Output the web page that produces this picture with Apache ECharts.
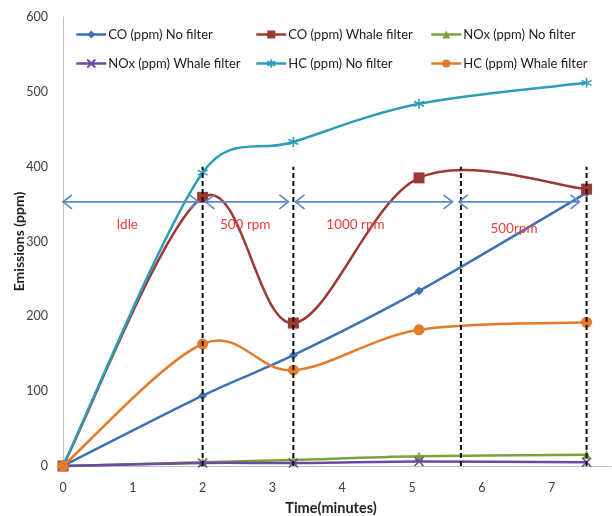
<!DOCTYPE html>
<html>
<head>
<meta charset="utf-8">
<script src="https://cdn.jsdelivr.net/npm/echarts@6/dist/echarts.min.js"></script>
<style>
html,body{margin:0;padding:0;background:#fff;}
#chart{width:612px;height:516px;}
</style>
</head>
<body>
<div id="chart"></div>
<script>
// ---- data ----
const timeMin      = [0, 2, 3.3, 5.1, 7.5];
const coNoFilter   = [0, 94, 148, 234, 365];
const coWhale      = [0, 359, 191, 385, 370];
const noxNoFilter  = [0, 5, 8, 13, 15];
const noxWhale     = [0, 4, 4, 6, 5];
const hcNoFilter   = [0, 392, 433, 484, 512];
const hcWhale      = [0, 163, 128, 182, 192];

const seriesNames = ['CO (ppm) No filter','CO (ppm) Whale filter','NOx (ppm) No filter',
                     'NOx (ppm) Whale filter','HC (ppm) No filter','HC (ppm) Whale filter'];

const phaseBoundaries = [2, 3.3, 5.7, 7.5];
const boundaryTop = 400;
const arrowStart = [0, 2.04, 3.33, 5.67];
const arrowEnd   = [1.94, 3.23, 5.58, 7.40];
const arrowLevel = [353, 353, 353, 353];
const phaseLabels = ['Idle', '500 rpm', '1000 rpm', '500rpm'];
const phaseLabelX = [0.92, 2.61, 4.19, 6.46];
const phaseLabelY = [323, 323, 323, 317];

const yTicks = [0, 100, 200, 300, 400, 500, 600];
const xTicks = [0, 1, 2, 3, 4, 5, 6, 7];

// ---- styles ----
const FONT = 'Lato';
const colors = ['#3f72b5', '#9c3a36', '#79a33c', '#6d4a9f', '#2f9db5', '#e27c2c'];
const asterisk = 'path://M5,0L5,10M0.7,2.5L9.3,7.5M0.7,7.5L9.3,2.5';
const cross = 'path://M0,0L10,10M0,10L10,0';
const symbols = ['diamond', 'rect', 'triangle', cross, asterisk, 'circle'];
const symbolSizes = [9, 11, 9, 9, 10, 11];
const values = [coNoFilter, coWhale, noxNoFilter, noxWhale, hcNoFilter, hcWhale];

function dist(a, b) { return Math.hypot(b[0] - a[0], b[1] - a[1]); }

// Smoothed curve (Excel-style spline) drawn segment by segment from the data through api.coord
function curveSeries(sIdx) {
  const vals = values[sIdx];
  const n = timeMin.length;
  return {
    name: seriesNames[sIdx],
    type: 'custom',
    silent: true,
    z: 2 + sIdx,
    data: timeMin.map((t, k) => [t, vals[k]]),
    encode: { x: 0, y: 1 },
    renderItem: function (params, api) {
      const i = params.dataIndex;
      if (i >= n - 1) return null;
      const P = k => api.coord([timeMin[k], vals[k]]);
      const P0 = P(Math.max(i - 1, 0)), P1 = P(i), P2 = P(i + 1), P3 = P(Math.min(i + 2, n - 1));
      const d12 = dist(P1, P2), d02 = dist(P0, P2), d13 = dist(P1, P3);
      let f1 = 1 / 6, f2 = 1 / 6;
      if (d02 / 6 > d12 / 2 && d02 > 0) f1 = d12 / (2 * d02);
      if (d13 / 6 > d12 / 2 && d13 > 0) f2 = d12 / (2 * d13);
      return {
        type: 'bezierCurve',
        shape: {
          x1: P1[0], y1: P1[1],
          cpx1: P1[0] + (P2[0] - P0[0]) * f1, cpy1: P1[1] + (P2[1] - P0[1]) * f1,
          cpx2: P2[0] - (P3[0] - P1[0]) * f2, cpy2: P2[1] - (P3[1] - P1[1]) * f2,
          x2: P2[0], y2: P2[1]
        },
        style: { stroke: colors[sIdx], lineWidth: 2.5, fill: 'none', lineCap: 'round' }
      };
    },
    animation: false
  };
}

function markerSeries(i) {
  const stroke = (i === 3 || i === 4);
  return {
    name: seriesNames[i],
    type: 'line',
    data: timeMin.map((t, k) => [t, values[i][k]]),
    symbol: symbols[i],
    symbolSize: symbolSizes[i],
    showAllSymbol: true,
    lineStyle: { color: colors[i], width: 2.5, opacity: 0 },
    itemStyle: stroke
      ? { color: colors[i], borderColor: colors[i], borderWidth: 1.6 }
      : { color: colors[i], borderWidth: 0 },
    z: 2 + i,
    animation: false
  };
}

const dataSeries = [];
seriesNames.forEach((n, i) => { dataSeries.push(markerSeries(i)); });
seriesNames.forEach((n, i) => { dataSeries.push(curveSeries(i)); });

const boundarySeries = {
  type: 'custom',
  silent: true,
  z: 20,
  data: phaseBoundaries.map(b => [b, 0, boundaryTop]),
  encode: { x: 0, y: [1, 2] },
  renderItem: function (params, api) {
    const p0 = api.coord([api.value(0), api.value(1)]);
    const p1 = api.coord([api.value(0), api.value(2)]);
    return {
      type: 'line',
      shape: { x1: p0[0], y1: p0[1], x2: p1[0], y2: p1[1] },
      style: { stroke: '#111', lineWidth: 2, lineDash: [5, 3] }
    };
  },
  animation: false
};

const arrowColor = '#5b8ac6';
const arrowSeries = {
  type: 'custom',
  silent: true,
  z: 21,
  data: arrowStart.map((s, i) => [s, arrowEnd[i], arrowLevel[i]]),
  encode: { x: [0, 1], y: 2 },
  renderItem: function (params, api) {
    const p0 = api.coord([api.value(0), api.value(2)]);
    const p1 = api.coord([api.value(1), api.value(2)]);
    const h = 9, w = 7;
    const st = { stroke: arrowColor, lineWidth: 1.6, fill: 'none' };
    return {
      type: 'group',
      children: [
        { type: 'line', shape: { x1: p0[0], y1: p0[1], x2: p1[0], y2: p1[1] }, style: st },
        { type: 'polyline', shape: { points: [[p0[0] + h, p0[1] - w], [p0[0], p0[1]], [p0[0] + h, p0[1] + w]] }, style: st },
        { type: 'polyline', shape: { points: [[p1[0] - h, p1[1] - w], [p1[0], p1[1]], [p1[0] - h, p1[1] + w]] }, style: st }
      ]
    };
  },
  animation: false
};

const labelSeries = {
  type: 'custom',
  silent: true,
  z: 22,
  data: phaseLabels.map((t, i) => [phaseLabelX[i], phaseLabelY[i], i]),
  encode: { x: 0, y: 1 },
  renderItem: function (params, api) {
    const p = api.coord([api.value(0), api.value(1)]);
    return {
      type: 'text',
      x: p[0], y: p[1],
      style: {
        text: phaseLabels[api.value(2)],
        fill: '#f23b3b',
        fontFamily: FONT,
        fontSize: 13.5,
        align: 'center',
        verticalAlign: 'middle'
      }
    };
  },
  animation: false
};

const legendPos = [[70, 23], [250, 23], [425, 23], [70, 52], [250, 52], [425, 52]];
const legends = seriesNames.map((n, i) => ({
  data: [n],
  left: legendPos[i][0],
  top: legendPos[i][1],
  itemWidth: 30,
  itemHeight: 10,
  itemGap: 0,
  selectedMode: false,
  lineStyle: { width: 2.5, opacity: 1 },
  textStyle: { fontFamily: FONT, fontSize: 13, color: '#222', padding: [0, 0, 0, -3] }
}));

const chart = echarts.init(document.getElementById('chart'), null, { renderer: 'canvas' });
chart.setOption({
  backgroundColor: '#fff',
  animation: false,
  legend: legends,
  grid: { left: 63, right: 1, top: 17, bottom: 50, containLabel: false, outerBoundsMode: 'none' },
  xAxis: {
    type: 'value',
    min: xTicks[0],
    max: 7.85,
    interval: 1,
    name: 'Time(minutes)',
    nameLocation: 'middle',
    nameGap: 35,
    nameMoveOverlap: false,
    nameTextStyle: { fontFamily: FONT, fontWeight: 'bold', fontSize: 14.5, color: '#222', padding: [0, 12, 0, 0] },
    axisLine: { show: true, lineStyle: { color: '#bfbfbf', width: 1 } },
    axisTick: { show: false },
    splitLine: { show: false },
    axisLabel: { showMaxLabel: false, margin: 15, fontFamily: FONT, fontSize: 12.5, color: '#404040' }
  },
  yAxis: {
    type: 'value',
    min: yTicks[0],
    max: yTicks[yTicks.length - 1],
    interval: 100,
    name: 'Emissions (ppm)',
    nameLocation: 'middle',
    nameGap: 37,
    nameMoveOverlap: false,
    nameTextStyle: { fontFamily: FONT, fontWeight: 'bold', fontSize: 14, color: '#222' },
    axisLine: { show: true, lineStyle: { color: '#bfbfbf', width: 1 } },
    axisTick: { show: false },
    splitLine: { show: false },
    axisLabel: { margin: 15, fontFamily: FONT, fontSize: 12.5, color: '#404040' }
  },
  series: dataSeries.concat([boundarySeries, arrowSeries, labelSeries])
});
</script>
</body>
</html>
